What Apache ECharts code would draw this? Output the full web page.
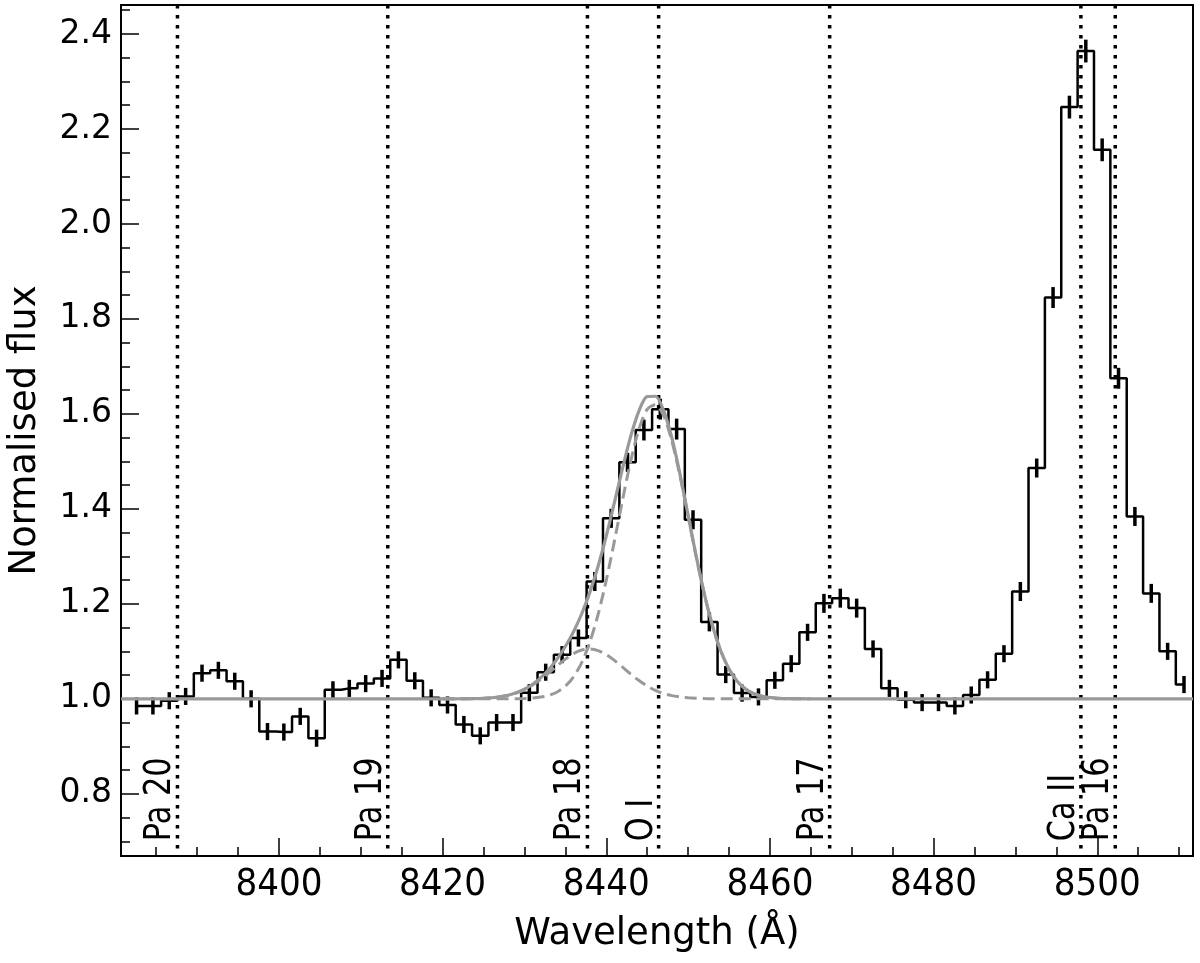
<!DOCTYPE html>
<html><head><meta charset="utf-8">
<script src="https://cdn.jsdelivr.net/npm/echarts@6/dist/echarts.min.js"></script>
<style>html,body{margin:0;padding:0;background:#fff}#c{width:1200px;height:963px}</style>
</head><body><div id="c"></div>
<script>
// ---- data ----
const wavelengths = [
8382.6,8384.6,8386.6,8388.6,8390.6,8392.6,8394.6,8396.6,8398.6,8400.6,
8402.6,8404.6,8406.6,8408.6,8410.6,8412.6,8414.6,8416.6,8418.6,8420.6,
8422.6,8424.6,8426.6,8428.6,8430.6,8432.6,8434.6,8436.6,8438.6,8440.6,
8442.6,8444.6,8446.6,8448.6,8450.6,8452.6,8454.6,8456.6,8458.6,8460.6,
8462.6,8464.6,8466.6,8468.6,8470.6,8472.6,8474.6,8476.6,8478.6,8480.6,
8482.6,8484.6,8486.6,8488.6,8490.6,8492.6,8494.6,8496.6,8498.6,8500.6,
8502.6,8504.6,8506.6,8508.6,8510.6];
const flux = [
0.985,0.985,0.996,1.005,1.054,1.060,1.037,1.000,0.931,0.930,
0.963,0.917,1.019,1.022,1.032,1.043,1.082,1.038,1.002,0.987,
0.946,0.922,0.950,0.950,1.013,1.056,1.093,1.128,1.247,1.380,
1.498,1.566,1.610,1.568,1.377,1.162,1.051,1.012,1.004,1.039,
1.074,1.140,1.201,1.212,1.191,1.105,1.022,0.998,0.992,0.992,
0.985,1.008,1.040,1.095,1.226,1.486,1.845,2.246,2.364,2.156,
1.675,1.384,1.222,1.100,1.030];
const fluxErr = [
0.018,0.018,0.018,0.018,0.018,0.018,0.018,0.018,0.018,0.018,
0.018,0.018,0.018,0.018,0.018,0.018,0.018,0.018,0.018,0.018,
0.018,0.018,0.018,0.018,0.018,0.018,0.018,0.018,0.020,0.020,
0.020,0.022,0.022,0.022,0.020,0.020,0.018,0.018,0.018,0.018,
0.018,0.018,0.020,0.020,0.020,0.018,0.018,0.018,0.018,0.018,
0.018,0.018,0.018,0.018,0.020,0.020,0.022,0.024,0.024,0.024,
0.022,0.020,0.020,0.018,0.018];

const fitWaves = [
8420,8421,8422,8423,8424,8425,8426,8427,8428,8429,
8430,8431,8432,8433,8434,8435,8436,8437,8438,8439,
8440,8441,8442,8443,8444,8445,8446,8447,8448,8449,
8450,8451,8452,8453,8454,8455,8456,8457,8458,8459,
8460,8461,8462,8463,8464,8465];
const fitTotal = [
1.0000,1.0000,1.0001,1.0003,1.0006,1.0012,1.0023,1.0042,1.0075,1.0126,
1.0201,1.0307,1.0446,1.0623,1.0840,1.1101,1.1414,1.1791,1.2247,1.2792,
1.3428,1.4135,1.4863,1.5536,1.6064,1.6363,1.6371,1.6075,1.5506,1.4738,
1.3868,1.2994,1.2197,1.1529,1.1007,1.0629,1.0372,1.0209,1.0111,1.0056,
1.0027,1.0012,1.0005,1.0002,1.0001,1.0000];
const fitOI = [
1.0000,1.0000,1.0000,1.0000,1.0000,1.0000,1.0000,1.0000,1.0001,1.0003,
1.0007,1.0017,1.0036,1.0074,1.0144,1.0265,1.0462,1.0764,1.1197,1.1776,
1.2496,1.3325,1.4196,1.5016,1.5680,1.6094,1.6193,1.5963,1.5439,1.4700,
1.3848,1.2984,1.2192,1.1527,1.1006,1.0629,1.0372,1.0209,1.0111,1.0056,
1.0027,1.0012,1.0005,1.0002,1.0001,1.0000];
const fitPa18 = [
1.0000,1.0000,1.0001,1.0003,1.0006,1.0012,1.0023,1.0042,1.0074,1.0123,
1.0194,1.0290,1.0410,1.0549,1.0696,1.0836,1.0952,1.1027,1.1050,1.1016,
1.0932,1.0810,1.0667,1.0520,1.0384,1.0269,1.0178,1.0112,1.0067,1.0038,
1.0020,1.0010,1.0005,1.0002,1.0001,1.0000,1.0000,1.0000,1.0000,1.0000,
1.0000,1.0000,1.0000,1.0000,1.0000,1.0000];
const continuum = 1.0;

const lineNames = ['Pa 20','Pa 19','Pa 18','O I','Pa 17','Ca II','Pa 16'];
const lineWaves = [8387.6, 8413.3, 8437.7, 8446.4, 8467.3, 8498.0, 8502.2];
const lineLabelY = 0.70;

const xRange = [8380.7, 8511.7];
const yRange = [0.669, 2.461];
const xTicks = [8400, 8420, 8440, 8460, 8480, 8500];
const xMinorTicks = [8385,8390,8395,8405,8410,8415,8425,8430,8435,8445,8450,8455,8465,8470,8475,8485,8490,8495,8505,8510];
const yTicks = [0.8, 1.0, 1.2, 1.4, 1.6, 1.8, 2.0, 2.2, 2.4];
const yMinorTicks = [0.7,0.75,0.85,0.9,0.95,1.05,1.1,1.15,1.25,1.3,1.35,1.45,1.5,1.55,1.65,1.7,1.75,1.85,1.9,1.95,2.05,2.1,2.15,2.25,2.3,2.35,2.45];

// ---- chart ----
const FONT = 'DejaVu Sans';
const CFONT = '"DejaVu Sans Condensed", "DejaVu Sans"';
const GRAY = '#999999';
const chart = echarts.init(document.getElementById('c'), null, {renderer: 'canvas'});

const stepData = wavelengths.map((w, i) => [w, flux[i]]);
const errData = wavelengths.map((w, i) => [w, flux[i], fluxErr[i]]);
const totalData = [[xRange[0], continuum]].concat(fitWaves.map((w, i) => [w, fitTotal[i]]), [[xRange[1], continuum]]);
const oiData = fitWaves.map((w, i) => [w, fitOI[i]]);
const pa18Data = fitWaves.map((w, i) => [w, fitPa18[i]]);
const markerData = lineWaves.map((w, i) => [w, i]);

const axisCommon = {type: 'value', splitLine: {show: false}, scale: true};

chart.setOption({
  animation: false,
  backgroundColor: '#fff',
  grid: {left: 121, right: 7, top: 5, bottom: 107, containLabel: false, outerBoundsMode: 'none',
         show: true, borderColor: '#000', borderWidth: 2, backgroundColor: 'transparent'},
  xAxis: [
    Object.assign({}, axisCommon, {
      min: xRange[0], max: xRange[1], position: 'bottom',
      axisLine: {show: true, lineStyle: {color: '#000', width: 2}},
      axisTick: {show: true, inside: true, length: 18, customValues: xTicks, lineStyle: {color: '#000', width: 1.5}},
      axisLabel: {show: true, customValues: xTicks, formatter: v => String(Math.round(v)), color: '#000', fontFamily: CFONT, fontSize: 38, margin: 10},
      name: 'Wavelength (Å)', nameLocation: 'middle', nameGap: 60,
      nameTextStyle: {color: '#000', fontFamily: FONT, fontSize: 37}
    }),
    Object.assign({}, axisCommon, {
      min: xRange[0], max: xRange[1], position: 'bottom',
      axisLine: {show: false},
      axisTick: {show: true, inside: true, length: 9, customValues: xMinorTicks, lineStyle: {color: '#000', width: 1.5}},
      axisLabel: {show: false}
    })
  ],
  yAxis: [
    Object.assign({}, axisCommon, {
      min: yRange[0], max: yRange[1], position: 'left',
      axisLine: {show: true, lineStyle: {color: '#000', width: 2}},
      axisTick: {show: true, inside: true, length: 18, customValues: yTicks, lineStyle: {color: '#000', width: 1.5}},
      axisLabel: {show: true, customValues: yTicks, formatter: v => Number(v).toFixed(1), color: '#000', fontFamily: FONT, fontSize: 33, margin: 9},
      name: 'Normalised flux', nameLocation: 'middle', nameGap: 77, nameRotate: 90,
      nameTextStyle: {color: '#000', fontFamily: FONT, fontSize: 37}
    }),
    Object.assign({}, axisCommon, {
      min: yRange[0], max: yRange[1], position: 'left',
      axisLine: {show: false},
      axisTick: {show: true, inside: true, length: 9, customValues: yMinorTicks, lineStyle: {color: '#000', width: 1.5}},
      axisLabel: {show: false}
    })
  ],
  series: [
    {
      type: 'custom', name: 'lines', data: markerData, z: 3, clip: false,
      encode: {x: 0},
      renderItem: function (params, api) {
        const w = api.value(0);
        const idx = api.value(1);
        const cs = params.coordSys;
        const p = api.coord([w, lineLabelY]);
        return {
          type: 'group',
          children: [
            {type: 'line', shape: {x1: p[0], y1: cs.y, x2: p[0], y2: cs.y + cs.height},
             style: {stroke: '#000', lineWidth: 3.5, lineDash: [3.5, 6.5], lineCap: 'butt'}},
            {type: 'text', x: p[0] + 2, y: p[1], rotation: Math.PI / 2, scaleX: 0.8, scaleY: 1,
             style: {text: lineNames[idx], fill: '#000', font: '38px "DejaVu Sans"',
                     textAlign: 'left', textVerticalAlign: 'bottom', align: 'left', verticalAlign: 'bottom'}}
          ]
        };
      }
    },
    {
      type: 'line', name: 'flux', data: stepData, step: 'middle', showSymbol: false, z: 4,
      lineStyle: {color: '#000', width: 2.5}
    },
    {
      type: 'custom', name: 'err', data: errData, z: 4,
      encode: {x: 0, y: 1},
      renderItem: function (params, api) {
        const x = api.value(0), y = api.value(1), e = api.value(2);
        const a = api.coord([x, y - e]), b = api.coord([x, y + e]);
        return {type: 'line', shape: {x1: a[0], y1: a[1], x2: b[0], y2: b[1]},
                style: {stroke: '#000', lineWidth: 3.5}};
      }
    },
    {
      type: 'line', name: 'OI comp', data: oiData, showSymbol: false, z: 5, smooth: 0.3,
      lineStyle: {color: GRAY, width: 3, type: [12, 6]}
    },
    {
      type: 'line', name: 'Pa18 comp', data: pa18Data, showSymbol: false, z: 5, smooth: 0.3,
      lineStyle: {color: GRAY, width: 3, type: [12, 6]}
    },
    {
      type: 'line', name: 'fit', data: totalData, showSymbol: false, z: 6, smooth: 0.3,
      lineStyle: {color: GRAY, width: 3.2}
    }
  ]
});
</script>
</body></html>
